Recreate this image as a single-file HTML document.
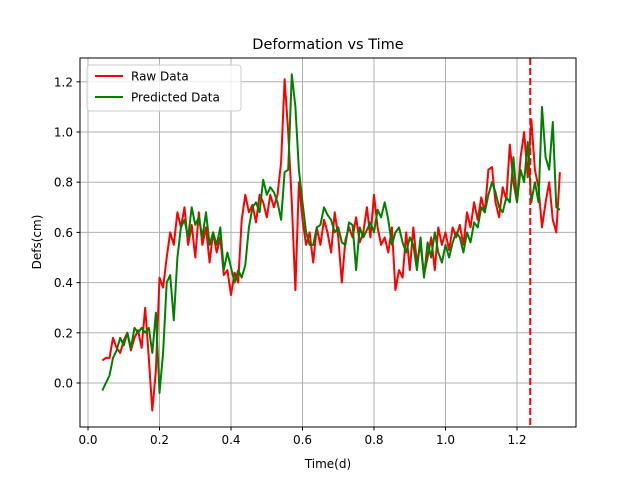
<!DOCTYPE html>
<html><head><meta charset="utf-8"><style>
body{margin:0;background:#fff}
svg text{font-family:"DejaVu Sans","Liberation Sans",sans-serif;fill:#000}
</style></head><body>
<svg id="chart" width="640" height="480">
<rect width="640" height="480" fill="#fff"/>
<g id="grid"></g>
<g id="series"></g>
<rect x="80" y="58" width="496" height="369" fill="none" stroke="#000" stroke-width="1"/>
<g id="ticks"></g>
<text x="328" y="49" font-size="14.5" text-anchor="middle">Deformation vs Time</text>
<text x="328" y="468" font-size="12" text-anchor="middle">Time(d)</text>
<text x="0" y="0" font-size="12" text-anchor="middle" transform="translate(41,242) rotate(-90)">Defs(cm)</text>
<g>
<rect x="87" y="65" width="154" height="46" rx="3" fill="#fff" fill-opacity="0.8" stroke="#ccc"/>
<g><line x1="95" y1="76" x2="123" y2="76" stroke="#f00" stroke-width="2"/><text x="131" y="80.5" font-size="12">Raw Data</text></g>
<g><line x1="95" y1="97" x2="123" y2="97" stroke="#008000" stroke-width="2"/><text x="131" y="101.5" font-size="12">Predicted Data</text></g>
</g>
</svg>
<script>
const times=[0.04,0.05,0.06,0.07,0.08,0.09,
0.10,0.11,0.12,0.13,0.14,0.15,0.16,0.17,0.18,0.19,
0.20,0.21,0.22,0.23,0.24,0.25,0.26,0.27,0.28,0.29,
0.30,0.31,0.32,0.33,0.34,0.35,0.36,0.37,0.38,0.39,
0.40,0.41,0.42,0.43,0.44,0.45,0.46,0.47,0.48,0.49,
0.50,0.51,0.52,0.53,0.54,0.55,0.56,0.57,0.58,0.59,
0.60,0.61,0.62,0.63,0.64,0.65,0.66,0.67,0.68,0.69,
0.70,0.71,0.72,0.73,0.74,0.75,0.76,0.77,0.78,0.79,
0.80,0.81,0.82,0.83,0.84,0.85,0.86,0.87,0.88,0.89,
0.90,0.91,0.92,0.93,0.94,0.95,0.96,0.97,0.98,0.99,
1.00,1.01,1.02,1.03,1.04,1.05,1.06,1.07,1.08,1.09,
1.10,1.11,1.12,1.13,1.14,1.15,1.16,1.17,1.18,1.19,
1.20,1.21,1.22,1.23,1.24,1.25,1.26,1.27,1.28,1.29,
1.30,1.31,1.32];
const rawData=[0.09,0.10,0.10,0.18,0.14,0.12,
0.17,0.20,0.13,0.18,0.21,0.14,0.30,0.10,-0.11,0.05,
0.42,0.38,0.50,0.60,0.55,0.68,0.62,0.70,0.55,0.63,
0.50,0.68,0.55,0.62,0.48,0.60,0.52,0.58,0.43,0.45,
0.35,0.44,0.40,0.65,0.75,0.68,0.71,0.64,0.75,0.72,
0.66,0.75,0.70,0.75,0.88,1.21,1.00,0.72,0.37,0.80,
0.65,0.55,0.60,0.48,0.62,0.55,0.65,0.60,0.52,0.68,
0.58,0.40,0.57,0.62,0.58,0.66,0.56,0.60,0.70,0.58,
0.75,0.62,0.55,0.58,0.52,0.62,0.37,0.45,0.42,0.60,
0.45,0.62,0.48,0.55,0.43,0.50,0.58,0.45,0.62,0.55,
0.60,0.53,0.62,0.58,0.63,0.55,0.68,0.62,0.72,0.65,
0.74,0.68,0.85,0.86,0.72,0.66,0.78,0.73,0.95,0.80,
0.72,0.90,1.00,0.82,1.05,0.85,0.78,0.62,0.72,0.80,
0.65,0.60,0.84];
const predData=[-0.03,0.00,0.03,0.10,0.13,0.18,
0.15,0.20,0.14,0.22,0.20,0.22,0.20,0.22,0.12,0.28,
-0.04,0.12,0.40,0.43,0.25,0.50,0.62,0.65,0.58,0.70,
0.63,0.66,0.58,0.68,0.55,0.60,0.55,0.62,0.45,0.52,
0.46,0.40,0.45,0.42,0.47,0.62,0.70,0.72,0.68,0.81,
0.75,0.78,0.76,0.72,0.65,0.84,0.85,1.23,1.10,0.85,
0.72,0.60,0.55,0.55,0.62,0.63,0.70,0.67,0.65,0.60,
0.62,0.56,0.55,0.64,0.63,0.45,0.62,0.58,0.61,0.64,
0.60,0.69,0.66,0.72,0.65,0.55,0.60,0.62,0.56,0.52,
0.58,0.55,0.45,0.58,0.42,0.56,0.50,0.60,0.52,0.48,
0.55,0.50,0.56,0.60,0.58,0.52,0.60,0.56,0.64,0.62,
0.70,0.68,0.75,0.80,0.76,0.70,0.68,0.74,0.72,0.90,
0.72,0.85,0.80,0.96,0.72,0.80,0.72,1.10,0.90,0.85,
1.04,0.70,0.69];
const xTicks=[0.0,0.2,0.4,0.6,0.8,1.0,1.2];
const yTicks=[0.0,0.2,0.4,0.6,0.8,1.0,1.2];
const splitTime=[1.237];

const NS="http://www.w3.org/2000/svg";
function xs(t){return 88+t*357.5;}
function ys(v){return 383-v*251;}
const grid=document.getElementById('grid');
const ticks=document.getElementById('ticks');
const series=document.getElementById('series');
function mk(tag,attrs,parent){const e=document.createElementNS(NS,tag);for(const k in attrs)e.setAttribute(k,attrs[k]);parent.appendChild(e);return e;}

xTicks.forEach(t=>{
  const g=mk('line',{x1:xs(t),x2:xs(t),y1:58,y2:427,stroke:'#b0b0b0','stroke-width':1},grid);
  
  
  mk('line',{x1:xs(t),x2:xs(t),y1:427,y2:430.5,stroke:'#000'},ticks);
  const tx=mk('text',{x:xs(t),y:444,'font-size':'12','text-anchor':'middle'},ticks);
  tx.textContent=t.toFixed(1);
  
  
});
yTicks.forEach(v=>{
  const g=mk('line',{x1:80,x2:576,y1:ys(v),y2:ys(v),stroke:'#b0b0b0','stroke-width':1},grid);
  
  
  mk('line',{x1:76.5,x2:80,y1:ys(v),y2:ys(v),stroke:'#000'},ticks);
  const tx=mk('text',{x:73,y:ys(v)+4.5,'font-size':'12','text-anchor':'end'},ticks);
  tx.textContent=v.toFixed(1);
  
  
});
function pts(vals){return vals.map((v,i)=>xs(times[i]).toFixed(1)+','+ys(v).toFixed(1)).join(' ');}
const raw=mk('polyline',{points:pts(rawData),fill:'none',stroke:'#f00','stroke-width':2,'stroke-linejoin':'round'},series);


const pred=mk('polyline',{points:pts(predData),fill:'none',stroke:'#008000','stroke-width':2,'stroke-linejoin':'round'},series);


splitTime.forEach(t=>{
  const d=mk('line',{x1:xs(t),x2:xs(t),y1:58,y2:427,stroke:'#f00','stroke-width':2,'stroke-dasharray':'7,3'},series);
  
  
});
</script>
</body></html>
